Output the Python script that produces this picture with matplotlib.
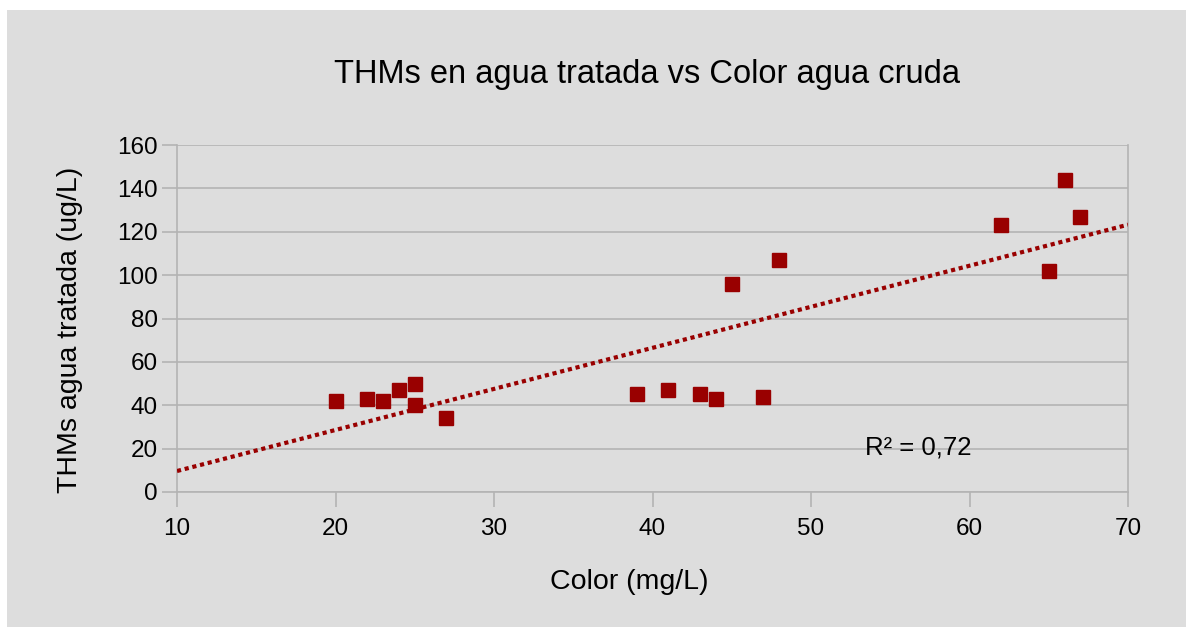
import matplotlib.pyplot as plt
from matplotlib.patches import Rectangle
import numpy as np

plt.rcParams['font.family'] = ['Liberation Sans', 'DejaVu Sans']

# --- Data ---
color_mg_l = [20, 22, 23, 24, 25, 25, 27, 39, 41, 43, 44, 45, 47, 48, 62, 65, 66, 67]
thms_ug_l = [42, 43, 42, 47, 50, 40, 34, 45, 47, 45, 43, 96, 44, 107, 123, 102, 144, 127]

title = "THMs en agua tratada vs Color agua cruda"
x_label = "Color (mg/L)"
y_label = "THMs agua tratada (ug/L)"
r2_text = "R² = 0,72"

bg = '#dddddd'
grid_col = '#b3b3b3'
marker_col = '#990000'

fig = plt.figure(figsize=(11.86, 6.30), dpi=100)
fig.patch.set_facecolor('white')
# grey chart frame (white strip on top/left, like the source export)
frame = Rectangle((7 / 1186, 3 / 630), 1 - 7 / 1186, 617 / 630,
                  transform=fig.transFigure, facecolor=bg,
                  edgecolor='none', zorder=-10)
fig.patches.append(frame)

ax = fig.add_axes([177 / 1186, 1 - 492 / 630, (1128 - 177) / 1186, (492 - 145) / 630])
ax.set_zorder(1)
ax.set_facecolor(bg)

# Linear trendline
coef = np.polyfit(color_mg_l, thms_ug_l, 1)
xs = np.array([10, 70])
ax.plot(xs, np.polyval(coef, xs), linestyle=(0, (1, 0.9)), color=marker_col,
        linewidth=3, zorder=3, dash_capstyle='butt')

ax.plot(color_mg_l, thms_ug_l, linestyle='none', marker='s', markersize=10,
        color=marker_col, markeredgecolor=marker_col, zorder=4)

ax.set_xlim(10, 70)
ax.set_ylim(0, 160)
ax.set_xticks(range(10, 71, 10))
ax.set_yticks(range(0, 161, 20))
ax.grid(axis='y', color=grid_col, linewidth=1.2)
ax.set_axisbelow(True)

for s in ['left', 'bottom', 'right']:
    ax.spines[s].set_color(grid_col)
    ax.spines[s].set_linewidth(1.2)
ax.spines['top'].set_visible(False)

ax.tick_params(axis='both', direction='out', length=11, width=1.2, color=grid_col,
               labelsize=17.5, labelcolor='black')
ax.tick_params(axis='x', pad=8)
ax.tick_params(axis='y', pad=3)

ax.text(53.4, 20.5, r2_text, fontsize=18.5, ha='left', va='center', color='black')

fig.text(647 / 1186, 1 - 75 / 630, title, fontsize=23.5, ha='center', va='center')
fig.text(629 / 1186, 1 - 582 / 630, x_label, fontsize=20.5, ha='center', va='center')
fig.text(70 / 1186, 1 - 330 / 630, y_label, fontsize=20.5, ha='center', va='center',
         rotation=90)

fig.savefig('out.png', dpi=100, facecolor=fig.get_facecolor())
